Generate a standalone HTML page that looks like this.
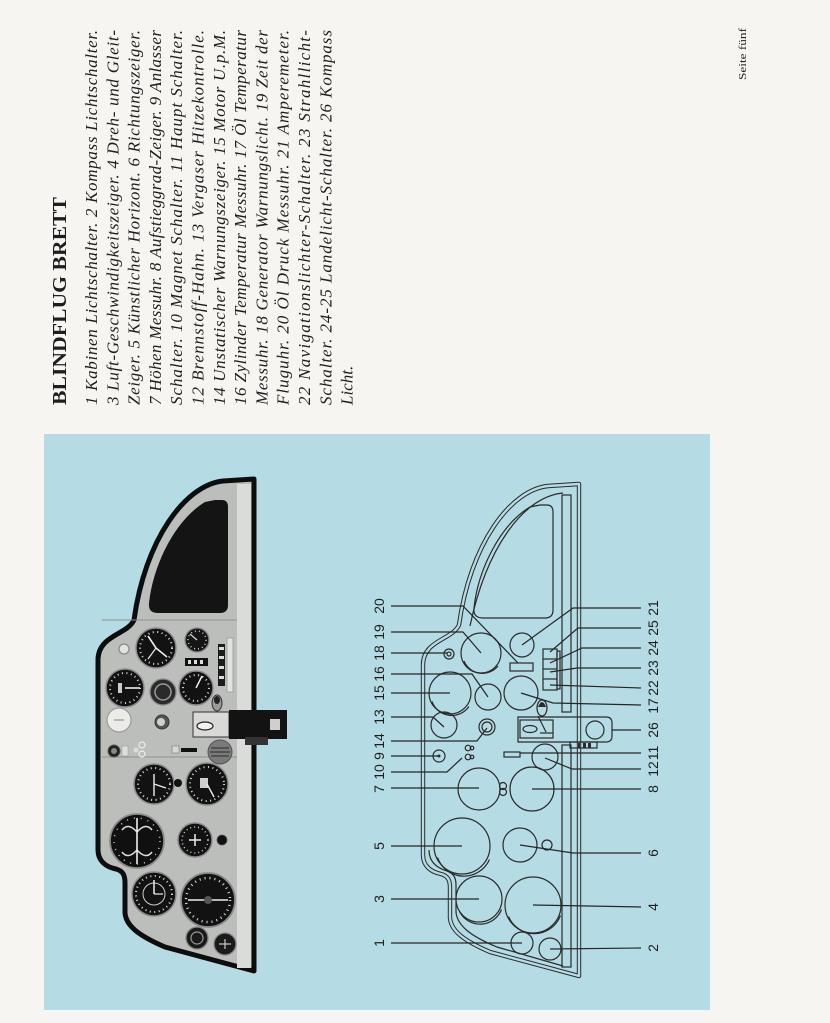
<!DOCTYPE html>
<html><head><meta charset="utf-8"><style>
html,body{margin:0;padding:0;background:#f6f5f1;}
svg{display:block}
.b{font-family:"Liberation Serif",serif;font-style:italic;font-size:17px;fill:#1e1e1e}
.h{font-family:"Liberation Serif",serif;font-weight:bold;font-size:20px;fill:#1e1e1e}
.n{font-family:"Liberation Sans",sans-serif;font-size:14px;fill:#1e1e1e}
.ld{stroke:#262626;stroke-width:1.2;fill:none}
.dr{stroke:#2a2a2a;stroke-width:1.2;fill:none}
</style></head><body>
<svg width="830" height="1023" viewBox="0 0 830 1023" xmlns="http://www.w3.org/2000/svg">
<rect width="830" height="1023" fill="#f6f5f1"/>
<!-- text block -->
<text class="h" transform="translate(66,405) rotate(-90)" textLength="208" lengthAdjust="spacingAndGlyphs">BLINDFLUG BRETT</text>
<g class="b">
<text transform="translate(97,405) rotate(-90)" textLength="375" lengthAdjust="spacing">1 Kabinen Lichtschalter. 2 Kompass Lichtschalter.</text>
<text transform="translate(118.3,405) rotate(-90)" textLength="375" lengthAdjust="spacing">3 Luft-Geschwindigkeitszeiger. 4 Dreh- und Gleit-</text>
<text transform="translate(139.6,405) rotate(-90)" textLength="375" lengthAdjust="spacing">Zeiger. 5 Künstlicher Horizont. 6 Richtungszeiger.</text>
<text transform="translate(160.9,405) rotate(-90)" textLength="375" lengthAdjust="spacing">7 Höhen Messuhr. 8 Aufstieggrad-Zeiger. 9 Anlasser</text>
<text transform="translate(182.2,405) rotate(-90)" textLength="375" lengthAdjust="spacing">Schalter. 10 Magnet Schalter. 11 Haupt Schalter.</text>
<text transform="translate(203.5,405) rotate(-90)" textLength="375" lengthAdjust="spacing">12 Brennstoff-Hahn. 13 Vergaser Hitzekontrolle.</text>
<text transform="translate(224.8,405) rotate(-90)" textLength="375" lengthAdjust="spacing">14 Unstatischer Warnungszeiger. 15 Motor U.p.M.</text>
<text transform="translate(246.1,405) rotate(-90)" textLength="375" lengthAdjust="spacing">16 Zylinder Temperatur Messuhr. 17 Öl Temperatur</text>
<text transform="translate(267.4,405) rotate(-90)" textLength="375" lengthAdjust="spacing">Messuhr. 18 Generator Warnungslicht. 19 Zeit der</text>
<text transform="translate(288.7,405) rotate(-90)" textLength="375" lengthAdjust="spacing">Fluguhr. 20 Öl Druck Messuhr. 21 Amperemeter.</text>
<text transform="translate(310,405) rotate(-90)" textLength="375" lengthAdjust="spacing">22 Navigationslichter-Schalter. 23 Strahllicht-</text>
<text transform="translate(331.3,405) rotate(-90)" textLength="375" lengthAdjust="spacing">Schalter. 24-25 Landelicht-Schalter. 26 Kompass</text>
<text transform="translate(352.6,405) rotate(-90)">Licht.</text>
</g>
<text transform="translate(746,80) rotate(-90)" font-family="Liberation Serif, serif" font-size="11" fill="#222" textLength="52" lengthAdjust="spacingAndGlyphs">Seite fünf</text>

<!-- blue panel -->
<rect x="44" y="434" width="666" height="576" fill="#b5dbe5"/>

<!-- ================= PHOTO ================= -->
<g transform="translate(-325,-5)">
  <path d="M 579 484 L 548 486 C 510 490, 470 545, 459 625 C 452 640, 424 640, 423 664 L 423 855 C 423 866, 431 872, 441 874 C 448 876, 450 880, 450 888 L 450 918 C 451 930, 462 940, 490 952 L 579 976 Z" fill="#bcbebc" stroke="#0d0d0d" stroke-width="5" stroke-linejoin="round"/>
  <rect x="562" y="489" width="14" height="484" fill="#dadcda"/>
  <path d="M 540 505 L 547 505 Q 553 505 553 512 L 553 610 Q 553 618 545 618 L 483 618 Q 473 618 474 608 C 478 570, 500 525, 530 507 Z" fill="#141414"/>
  <line x1="427" y1="625" x2="562" y2="625" stroke="#8f918f" stroke-width="1"/>
  <line x1="427" y1="762" x2="562" y2="762" stroke="#8f918f" stroke-width="1"/>
</g>
<!-- photo instruments -->
<g>
  <!-- 19 clock -->
  <circle cx="156" cy="648" r="20" fill="#121212" stroke="#8a8a8a" stroke-width="1.5"/>
  <circle cx="156" cy="648" r="16" fill="none" stroke="#ddd" stroke-width="2" stroke-dasharray="1 3.5"/>
  <line x1="156" y1="648" x2="148" y2="636" stroke="#eee" stroke-width="1.6"/>
  <line x1="156" y1="648" x2="167" y2="657" stroke="#eee" stroke-width="1.6"/>
  <line x1="156" y1="648" x2="148" y2="659" stroke="#eee" stroke-width="1.2"/>
  <!-- 21 -->
  <circle cx="197" cy="640" r="12" fill="#151515" stroke="#888" stroke-width="1.3"/>
  <circle cx="197" cy="640" r="9" fill="none" stroke="#ccc" stroke-width="1.5" stroke-dasharray="1 3"/>
  <line x1="197" y1="640" x2="190" y2="634" stroke="#ddd" stroke-width="1.2"/>
  <!-- 18 -->
  <circle cx="124" cy="649" r="5" fill="#e2e2e2" stroke="#888" stroke-width="1.2"/>
  <!-- 20 block -->
  <rect x="185" y="658" width="23" height="8" fill="#111"/>
  <rect x="188" y="660" width="3" height="4" fill="#ddd"/><rect x="194" y="660" width="3" height="4" fill="#ddd"/><rect x="200" y="660" width="3" height="4" fill="#ddd"/>
  <!-- switches 22-25 -->
  <rect x="218" y="644" width="7" height="42" fill="#1c1c1c"/>
  <rect x="219" y="647" width="5" height="3" fill="#ddd"/><rect x="219" y="656" width="5" height="3" fill="#ddd"/><rect x="219" y="666" width="5" height="3" fill="#ddd"/><rect x="219" y="676" width="5" height="3" fill="#ddd"/>
  <rect x="227" y="638" width="6" height="54" fill="#e2e2e0" stroke="#9a9a9a" stroke-width="0.8"/>
  <!-- 15 -->
  <circle cx="125" cy="688" r="19" fill="#121212" stroke="#8a8a8a" stroke-width="1.5"/>
  <circle cx="125" cy="688" r="15" fill="none" stroke="#ddd" stroke-width="2" stroke-dasharray="1 3.5"/>
  <line x1="125" y1="688" x2="140" y2="688" stroke="#eee" stroke-width="1.6"/>
  <rect x="118" y="683" width="4" height="10" fill="#ccc"/>
  <!-- 16 -->
  <circle cx="163" cy="692" r="13" fill="#2a2a2a" stroke="#888" stroke-width="1.3"/>
  <circle cx="163" cy="692" r="8" fill="none" stroke="#999" stroke-width="1.5"/>
  <!-- 17 -->
  <circle cx="196" cy="688" r="17" fill="#121212" stroke="#8a8a8a" stroke-width="1.5"/>
  <circle cx="196" cy="688" r="13" fill="none" stroke="#ddd" stroke-width="2" stroke-dasharray="1 3.5"/>
  <line x1="196" y1="688" x2="202" y2="676" stroke="#eee" stroke-width="1.5"/>
  <!-- 13 -->
  <circle cx="119" cy="720" r="12" fill="#ebebe8" stroke="#9a9a9a" stroke-width="1.2"/>
  <line x1="114" y1="720" x2="124" y2="720" stroke="#666" stroke-width="0.8"/>
  <!-- 14 -->
  <circle cx="162" cy="722" r="7" fill="#555" stroke="#333" stroke-width="1"/>
  <circle cx="161" cy="722" r="4" fill="#d0d0d0"/>
  <!-- compass 26 -->
  <ellipse cx="217" cy="703" rx="5" ry="8" fill="#9a9a9a" stroke="#333" stroke-width="1"/>
  <ellipse cx="217" cy="700" rx="3" ry="4" fill="#222"/>
  <rect x="193" y="712" width="36" height="25" fill="#d9d9d7" stroke="#333" stroke-width="1"/>
  <ellipse cx="205" cy="726" rx="8" ry="4" fill="#f2f2f2" stroke="#222" stroke-width="1.2"/>
  <rect x="229" y="710" width="58" height="29" fill="#131313"/>
  <rect x="270" y="719" width="10" height="11" fill="#cfcfcf"/>
  <rect x="245" y="737" width="23" height="8" fill="#333"/>
  <!-- 9 -->
  <circle cx="114" cy="751" r="6" fill="#222" stroke="#555" stroke-width="1"/>
  <circle cx="114" cy="751" r="3" fill="#888"/>
  <rect x="122" y="746" width="6" height="10" fill="#dedede" stroke="#999" stroke-width="0.6"/>
  <!-- 10 -->
  <circle cx="142" cy="745" r="3" fill="none" stroke="#eee" stroke-width="1.2"/>
  <circle cx="142" cy="754" r="3" fill="none" stroke="#eee" stroke-width="1.2"/>
  <circle cx="136" cy="750" r="2.5" fill="#ddd"/>
  <!-- 11 -->
  <rect x="172" y="746" width="7" height="7" fill="#d8d8d8" stroke="#777" stroke-width="0.6"/>
  <rect x="181" y="748" width="16" height="4" fill="#111"/>
  <!-- 12 -->
  <circle cx="220" cy="752" r="12" fill="#7a7a7a" stroke="#555" stroke-width="1"/>
  <line x1="211" y1="748" x2="229" y2="748" stroke="#444" stroke-width="1.5"/>
  <line x1="210" y1="752" x2="230" y2="752" stroke="#444" stroke-width="1.5"/>
  <line x1="211" y1="756" x2="229" y2="756" stroke="#444" stroke-width="1.5"/>
  <!-- 7 -->
  <circle cx="154" cy="784" r="20" fill="#121212" stroke="#8a8a8a" stroke-width="1.5"/>
  <circle cx="154" cy="784" r="16" fill="none" stroke="#ddd" stroke-width="2" stroke-dasharray="1 3.5"/>
  <line x1="154" y1="774" x2="154" y2="796" stroke="#eee" stroke-width="1.4"/>
  <line x1="154" y1="784" x2="166" y2="788" stroke="#eee" stroke-width="1.2"/>
  <circle cx="178" cy="783" r="4" fill="#111"/>
  <!-- 8 -->
  <circle cx="207" cy="784" r="21" fill="#121212" stroke="#8a8a8a" stroke-width="1.5"/>
  <circle cx="207" cy="784" r="17" fill="none" stroke="#ddd" stroke-width="2" stroke-dasharray="1 3.5"/>
  <rect x="200" y="778" width="8" height="10" fill="#cfcfcf"/>
  <line x1="207" y1="784" x2="214" y2="797" stroke="#eee" stroke-width="1.4"/>
  <!-- 5 horizon -->
  <circle cx="137" cy="841" r="27" fill="#101010" stroke="#8a8a8a" stroke-width="1.8"/>
  <path d="M 122 830 Q 128 822 137 832 Q 146 822 152 830" fill="none" stroke="#ddd" stroke-width="1.5"/>
  <path d="M 122 852 Q 128 860 137 850 Q 146 860 152 852" fill="none" stroke="#ddd" stroke-width="1.5"/>
  <line x1="137" y1="818" x2="137" y2="864" stroke="#eee" stroke-width="1.6"/>
  <circle cx="137" cy="841" r="23" fill="none" stroke="#ccc" stroke-width="1.5" stroke-dasharray="1 6"/>
  <!-- 6 -->
  <circle cx="195" cy="840" r="17" fill="#121212" stroke="#8a8a8a" stroke-width="1.5"/>
  <circle cx="195" cy="840" r="13" fill="none" stroke="#ccc" stroke-width="1.5" stroke-dasharray="1 3"/>
  <line x1="189" y1="840" x2="201" y2="840" stroke="#eee" stroke-width="1.5"/>
  <line x1="195" y1="834" x2="195" y2="846" stroke="#eee" stroke-width="1.5"/>
  <circle cx="222" cy="840" r="5" fill="#111" stroke="#555" stroke-width="0.8"/>
  <!-- 3 -->
  <circle cx="154" cy="894" r="22" fill="#121212" stroke="#8a8a8a" stroke-width="1.5"/>
  <circle cx="154" cy="894" r="18" fill="none" stroke="#ddd" stroke-width="2" stroke-dasharray="1 3.5"/>
  <circle cx="154" cy="894" r="11" fill="none" stroke="#ccc" stroke-width="1"/>
  <line x1="154" y1="894" x2="154" y2="880" stroke="#eee" stroke-width="1.5"/>
  <line x1="154" y1="894" x2="163" y2="894" stroke="#eee" stroke-width="1.2"/>
  <!-- 4 -->
  <circle cx="208" cy="900" r="27" fill="#121212" stroke="#8a8a8a" stroke-width="1.8"/>
  <circle cx="208" cy="900" r="22" fill="none" stroke="#ddd" stroke-width="2.5" stroke-dasharray="1 4"/>
  <line x1="188" y1="900" x2="228" y2="900" stroke="#eee" stroke-width="1.6"/>
  <circle cx="208" cy="900" r="4" fill="#555"/>
  <!-- 1, 2 -->
  <circle cx="197" cy="938" r="11" fill="#1a1a1a" stroke="#888" stroke-width="1.3"/>
  <circle cx="197" cy="938" r="6" fill="none" stroke="#999" stroke-width="1.2"/>
  <circle cx="225" cy="944" r="11" fill="#1a1a1a" stroke="#888" stroke-width="1.3"/>
  <line x1="219" y1="944" x2="231" y2="944" stroke="#ccc" stroke-width="1.2"/>
  <line x1="225" y1="939" x2="225" y2="949" stroke="#ccc" stroke-width="1.2"/>
</g>

<!-- ================= DRAWING ================= -->
<g>
  <path d="M 579 484 L 548 486 C 510 490, 470 545, 459 625 C 452 640, 424 640, 423 664 L 423 855 C 423 866, 431 872, 441 874 C 448 876, 450 880, 450 888 L 450 918 C 451 930, 462 940, 490 952 L 579 976 Z" fill="none" stroke="#2a2a2a" stroke-width="4.4" stroke-linejoin="round"/>
  <path d="M 579 484 L 548 486 C 510 490, 470 545, 459 625 C 452 640, 424 640, 423 664 L 423 855 C 423 866, 431 872, 441 874 C 448 876, 450 880, 450 888 L 450 918 C 451 930, 462 940, 490 952 L 579 976 Z" fill="none" stroke="#b5dbe5" stroke-width="2.4" stroke-linejoin="round"/>
  <path class="dr" d="M 563 493 C 522 497, 486 550, 470 626"/>
  <path class="dr" d="M 429 850 C 429 862, 437 868, 447 871 C 453 873, 456 877, 456 885 L 456 912 C 457 925, 470 936, 497 947 L 563 966"/>
  <path class="dr" d="M 540 505 L 547 505 Q 553 505 553 512 L 553 610 Q 553 618 545 618 L 483 618 Q 473 618 474 608 C 478 570, 500 525, 530 507 Z"/>
  <rect class="dr" x="562" y="495" width="9" height="217"/>
  <rect class="dr" x="562" y="745" width="9" height="222"/>
  <!-- instruments -->
  <circle class="dr" cx="481" cy="653" r="20"/><path class="dr" d="M 463 660 A 20 20 0 0 0 497 665" transform="translate(1,1)"/>
  <circle class="dr" cx="522" cy="645" r="12"/>
  <rect class="dr" x="510" y="663" width="23" height="8"/>
  <circle class="dr" cx="449" cy="654" r="5"/><circle class="dr" cx="449" cy="654" r="2"/>
  <rect class="dr" x="543" y="649" width="14" height="41"/>
  <line class="dr" x1="543" y1="659" x2="557" y2="659"/><line class="dr" x1="543" y1="669" x2="557" y2="669"/><line class="dr" x1="543" y1="679" x2="557" y2="679"/>
  <rect class="dr" x="557" y="651" width="3" height="38"/>
  <circle class="dr" cx="450" cy="693" r="21"/><path class="dr" d="M 431 700 A 21 21 0 0 0 468 705" transform="translate(1,1.5)"/>
  <circle class="dr" cx="488" cy="697" r="13"/>
  <circle class="dr" cx="521" cy="693" r="17"/>
  <circle class="dr" cx="444" cy="725" r="13"/>
  <circle class="dr" cx="487" cy="727" r="8"/><circle class="dr" cx="487" cy="727" r="5"/>
  <circle class="dr" cx="439" cy="756" r="6"/><circle cx="439" cy="756" r="1.5" fill="#2a2a2a"/>
  <circle class="dr" cx="468" cy="748" r="2.8" stroke-width="0.9"/><circle class="dr" cx="472" cy="748" r="1.8" stroke-width="0.9"/>
  <circle class="dr" cx="468" cy="757" r="2.8" stroke-width="0.9"/><circle class="dr" cx="472" cy="757" r="1.8" stroke-width="0.9"/>
  <rect class="dr" x="504" y="752" width="16" height="5"/>
  <circle class="dr" cx="545" cy="757" r="13"/>
  <!-- compass -->
  <ellipse class="dr" cx="542" cy="708" rx="5" ry="8"/>
  <path d="M 538 707 Q 542 697 546 707 Z" fill="#2a2a2a"/>
  <path class="dr" d="M 518 717 L 606 717 Q 612 717 612 723 L 612 736 Q 612 742 606 742 L 518 742 Z"/>
  <rect class="dr" x="520" y="720" width="33" height="18"/>
  <ellipse class="dr" cx="530" cy="729" rx="7" ry="3.5"/>
  <line class="dr" x1="538" y1="716" x2="546" y2="732"/>
  <line class="dr" x1="540" y1="733" x2="553" y2="733"/>
  <circle class="dr" cx="595" cy="730" r="9"/>
  <rect class="dr" x="570" y="742" width="27" height="6"/>
  <rect x="578" y="743" width="2" height="5" fill="#2a2a2a"/><rect x="583" y="743" width="3" height="5" fill="#2a2a2a"/><rect x="588" y="743" width="3" height="5" fill="#2a2a2a"/>
  <circle class="dr" cx="479" cy="789" r="21"/><circle class="dr" cx="503" cy="786" r="3.5"/><circle class="dr" cx="503" cy="792" r="3.5"/>
  <circle class="dr" cx="532" cy="789" r="22"/>
  <circle class="dr" cx="462" cy="846" r="28"/><path class="dr" d="M 436 856 A 28 28 0 0 0 488 858" transform="translate(1.5,1.5)"/>
  <circle class="dr" cx="520" cy="845" r="17"/>
  <circle class="dr" cx="547" cy="845" r="5"/>
  <circle class="dr" cx="479" cy="899" r="23"/><path class="dr" d="M 458 910 A 23 23 0 0 0 500 908" transform="translate(1.5,1.5)"/>
  <circle class="dr" cx="533" cy="905" r="28"/><path class="dr" d="M 507 915 A 28 28 0 0 0 559 914" transform="translate(1.5,1.5)"/>
  <circle class="dr" cx="522" cy="943" r="11"/>
  <circle class="dr" cx="550" cy="949" r="11"/>
</g>

<!-- leaders left -->
<g class="ld">
  <polyline points="391,606 463,606 518,663"/>
  <polyline points="391,632 463,632 481,653"/>
  <polyline points="391,653 447,653"/>
  <polyline points="391,674 472,674 488,697"/>
  <polyline points="391,693 450,693"/>
  <polyline points="391,717 433,717 444,727"/>
  <polyline points="391,741 477,741 487,728"/>
  <polyline points="391,756 439,756"/>
  <polyline points="391,772 447,772 462,758"/>
  <polyline points="391,788 479,788"/>
  <polyline points="391,846 462,846"/>
  <polyline points="391,899 479,899"/>
  <polyline points="391,943 522,943"/>
</g>
<!-- leaders right -->
<g class="ld">
  <polyline points="641,608 573,608 522,645"/>
  <polyline points="641,628 578,628 550,652"/>
  <polyline points="641,648 582,648 550,663"/>
  <polyline points="641,668 577,668 550,672"/>
  <polyline points="641,688 550,685"/>
  <polyline points="641,705 553,703 521,693"/>
  <polyline points="641,730 612,730"/>
  <polyline points="641,753 520,753"/>
  <polyline points="641,769 572,769 545,758"/>
  <polyline points="641,789 532,789"/>
  <polyline points="641,853 573,853 520,845"/>
  <polyline points="641,907 533,905"/>
  <polyline points="641,948 550,949"/>
</g>
<!-- labels left -->
<g class="n" text-anchor="middle">
  <text transform="translate(384,606) rotate(-90)">20</text>
  <text transform="translate(384,632) rotate(-90)">19</text>
  <text transform="translate(384,653) rotate(-90)">18</text>
  <text transform="translate(384,674) rotate(-90)">16</text>
  <text transform="translate(384,693) rotate(-90)">15</text>
  <text transform="translate(384,717) rotate(-90)">13</text>
  <text transform="translate(384,741) rotate(-90)">14</text>
  <text transform="translate(384,756) rotate(-90)">9</text>
  <text transform="translate(384,772) rotate(-90)">10</text>
  <text transform="translate(384,789) rotate(-90)">7</text>
  <text transform="translate(384,846) rotate(-90)">5</text>
  <text transform="translate(384,899) rotate(-90)">3</text>
  <text transform="translate(384,943) rotate(-90)">1</text>
</g>
<!-- labels right -->
<g class="n" text-anchor="middle">
  <text transform="translate(658,608) rotate(-90)">21</text>
  <text transform="translate(658,628) rotate(-90)">25</text>
  <text transform="translate(658,648) rotate(-90)">24</text>
  <text transform="translate(658,668) rotate(-90)">23</text>
  <text transform="translate(658,688) rotate(-90)">22</text>
  <text transform="translate(658,706) rotate(-90)">17</text>
  <text transform="translate(658,730) rotate(-90)">26</text>
  <text transform="translate(658,753) rotate(-90)">11</text>
  <text transform="translate(658,769) rotate(-90)">12</text>
  <text transform="translate(658,789) rotate(-90)">8</text>
  <text transform="translate(658,853) rotate(-90)">6</text>
  <text transform="translate(658,907) rotate(-90)">4</text>
  <text transform="translate(658,948) rotate(-90)">2</text>
</g>
</svg>
</body></html>
